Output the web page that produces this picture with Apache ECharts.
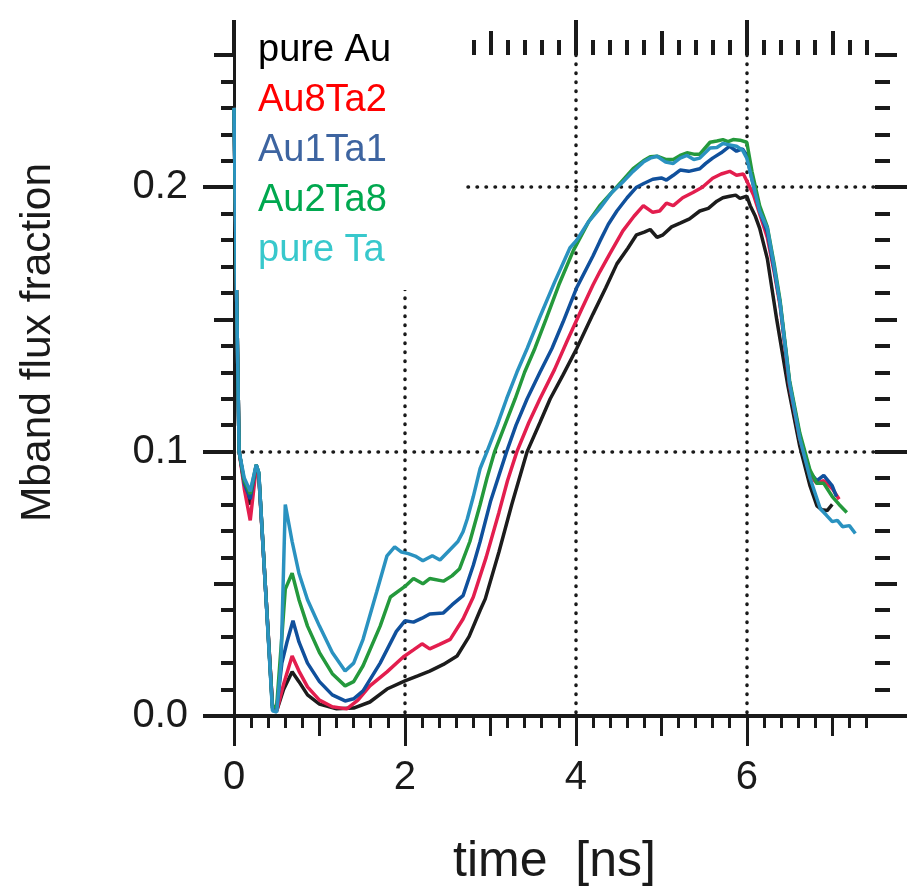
<!DOCTYPE html>
<html>
<head>
<meta charset="utf-8">
<script src="https://cdn.jsdelivr.net/npm/echarts@6/dist/echarts.min.js"></script>
<style>
    html, body { margin: 0; padding: 0; background: #fff; }
    #chart { width: 907px; height: 892px; }
</style>
</head>
<body>
<div id="chart"></div>
<script>
!function () {

    'use strict';

    // [time ns, Mband flux fraction]
    var pureAu = [[0,0.23],[0.03,0.16],[0.06,0.10],[0.12,0.088],[0.19,0.080],[0.26,0.094],[0.29,0.091],[0.45,0.004],[0.5,0.002],[0.58,0.010],[0.68,0.0167],[0.76,0.013],[0.86,0.008],[1.0,0.0045],[1.2,0.0027],[1.4,0.003],[1.59,0.0053],[1.79,0.0102],[2.0,0.0133],[2.15,0.0152],[2.29,0.017],[2.45,0.0195],[2.61,0.0227],[2.75,0.030],[2.88,0.040],[2.94,0.0443],[3.1,0.062],[3.25,0.080],[3.43,0.100],[3.58,0.111],[3.7,0.120],[3.85,0.129],[4.01,0.139],[4.2,0.152],[4.35,0.162],[4.48,0.171],[4.61,0.177],[4.71,0.182],[4.8,0.183],[4.87,0.184],[4.95,0.181],[5.02,0.182],[5.12,0.185],[5.22,0.1864],[5.33,0.188],[5.45,0.191],[5.55,0.192],[5.65,0.1947],[5.72,0.196],[5.8,0.1966],[5.87,0.197],[5.92,0.1958],[6.0,0.1966],[6.04,0.193],[6.1,0.189],[6.15,0.1845],[6.24,0.173],[6.35,0.150],[6.48,0.125],[6.62,0.102],[6.74,0.087],[6.82,0.0795],[6.88,0.078],[6.94,0.0777],[7.0,0.080]];
    var au8Ta2 = [[0,0.23],[0.03,0.16],[0.06,0.10],[0.12,0.086],[0.19,0.074],[0.26,0.094],[0.29,0.091],[0.45,0.004],[0.5,0.002],[0.58,0.012],[0.68,0.0227],[0.76,0.017],[0.86,0.011],[1.0,0.006],[1.15,0.0035],[1.32,0.0027],[1.45,0.006],[1.59,0.0114],[1.79,0.0167],[1.98,0.0223],[2.1,0.025],[2.2,0.0273],[2.29,0.0254],[2.4,0.027],[2.53,0.029],[2.68,0.0367],[2.8,0.045],[2.95,0.060],[3.1,0.077],[3.2,0.089],[3.31,0.100],[3.45,0.111],[3.58,0.120],[3.75,0.131],[3.9,0.142],[4.07,0.154],[4.2,0.163],[4.28,0.168],[4.4,0.175],[4.55,0.1835],[4.68,0.189],[4.79,0.193],[4.9,0.1905],[4.98,0.191],[5.06,0.194],[5.14,0.193],[5.25,0.196],[5.37,0.198],[5.48,0.200],[5.6,0.2034],[5.7,0.205],[5.8,0.206],[5.88,0.2045],[5.96,0.205],[6.02,0.201],[6.08,0.197],[6.15,0.19],[6.24,0.181],[6.32,0.168],[6.39,0.155],[6.5,0.125],[6.62,0.105],[6.74,0.091],[6.82,0.088],[6.9,0.089],[7.0,0.086],[7.08,0.082]];
    var au1Ta1 = [[0,0.23],[0.03,0.16],[0.06,0.10],[0.12,0.088],[0.19,0.082],[0.26,0.095],[0.29,0.092],[0.45,0.003],[0.5,0.003],[0.56,0.020],[0.62,0.028],[0.69,0.036],[0.76,0.028],[0.86,0.020],[1.0,0.013],[1.15,0.008],[1.3,0.0057],[1.4,0.0065],[1.51,0.0095],[1.71,0.020],[1.9,0.032],[2.0,0.036],[2.1,0.0355],[2.2,0.037],[2.29,0.0386],[2.45,0.039],[2.55,0.042],[2.68,0.0455],[2.8,0.057],[2.88,0.066],[3.0,0.081],[3.1,0.091],[3.19,0.100],[3.3,0.110],[3.43,0.120],[3.58,0.130],[3.72,0.139],[3.85,0.149],[4.01,0.162],[4.2,0.174],[4.28,0.1795],[4.38,0.186],[4.48,0.191],[4.6,0.196],[4.71,0.200],[4.8,0.2015],[4.9,0.203],[5.0,0.2035],[5.06,0.2027],[5.14,0.2045],[5.22,0.2065],[5.32,0.206],[5.45,0.207],[5.52,0.209],[5.6,0.211],[5.7,0.213],[5.8,0.2155],[5.88,0.2136],[5.95,0.2145],[6.0,0.212],[6.06,0.203],[6.15,0.191],[6.24,0.183],[6.32,0.169],[6.39,0.156],[6.5,0.126],[6.62,0.106],[6.74,0.092],[6.82,0.089],[6.9,0.091],[7.0,0.087],[7.05,0.083]];
    var au2Ta8 = [[0,0.23],[0.03,0.16],[0.06,0.10],[0.12,0.089],[0.19,0.084],[0.26,0.095],[0.29,0.092],[0.45,0.003],[0.5,0.004],[0.56,0.030],[0.6,0.048],[0.68,0.054],[0.76,0.044],[0.86,0.034],[1.0,0.024],[1.15,0.016],[1.3,0.0114],[1.4,0.013],[1.51,0.019],[1.71,0.034],[1.83,0.045],[2.0,0.049],[2.1,0.052],[2.21,0.050],[2.29,0.052],[2.45,0.051],[2.55,0.053],[2.64,0.0557],[2.76,0.066],[2.88,0.080],[2.96,0.090],[3.05,0.100],[3.17,0.110],[3.29,0.120],[3.4,0.130],[3.52,0.139],[3.65,0.150],[3.8,0.163],[3.97,0.176],[4.15,0.187],[4.28,0.193],[4.42,0.198],[4.55,0.2027],[4.67,0.207],[4.79,0.210],[4.87,0.2115],[4.95,0.2117],[5.05,0.2105],[5.14,0.2105],[5.22,0.212],[5.3,0.213],[5.38,0.2125],[5.45,0.2125],[5.57,0.217],[5.65,0.2175],[5.72,0.218],[5.78,0.2172],[5.84,0.218],[5.92,0.2178],[6.0,0.217],[6.06,0.206],[6.15,0.193],[6.24,0.185],[6.32,0.171],[6.39,0.157],[6.5,0.127],[6.62,0.107],[6.74,0.093],[6.82,0.088],[6.9,0.088],[7.0,0.083],[7.08,0.080],[7.17,0.077]];
    var pureTa = [[0,0.23],[0.03,0.16],[0.06,0.10],[0.12,0.090],[0.19,0.085],[0.26,0.095],[0.29,0.092],[0.45,0.002],[0.5,0.0015],[0.55,0.020],[0.6,0.080],[0.68,0.066],[0.76,0.054],[0.86,0.044],[1.0,0.034],[1.15,0.024],[1.3,0.017],[1.4,0.020],[1.51,0.029],[1.67,0.047],[1.79,0.0606],[1.88,0.064],[1.96,0.062],[2.04,0.0614],[2.12,0.0605],[2.21,0.0587],[2.32,0.0606],[2.41,0.059],[2.53,0.063],[2.62,0.066],[2.68,0.0697],[2.73,0.0746],[2.8,0.083],[2.88,0.0936],[2.96,0.100],[3.08,0.110],[3.19,0.120],[3.31,0.130],[3.43,0.139],[3.58,0.151],[3.75,0.164],[3.93,0.177],[4.01,0.180],[4.15,0.187],[4.28,0.192],[4.42,0.198],[4.55,0.202],[4.67,0.206],[4.79,0.2095],[4.87,0.211],[4.95,0.2117],[5.05,0.2095],[5.14,0.209],[5.22,0.211],[5.3,0.212],[5.38,0.2105],[5.45,0.211],[5.57,0.2148],[5.65,0.215],[5.72,0.2165],[5.8,0.216],[5.88,0.2155],[5.95,0.214],[6.0,0.211],[6.06,0.203],[6.15,0.191],[6.24,0.1845],[6.32,0.170],[6.39,0.156],[6.5,0.126],[6.62,0.105],[6.74,0.090],[6.86,0.0784],[6.93,0.076],[7.0,0.0735],[7.06,0.074],[7.12,0.0716],[7.2,0.072],[7.27,0.069]];

    var seriesNames = ['pure Au', 'Au8Ta2', 'Au1Ta1', 'Au2Ta8', 'pure Ta'];
    var seriesData = [pureAu, au8Ta2, au1Ta1, au2Ta8, pureTa];
    var lineColors = ['#1c1c1c', '#e31e4e', '#10509c', '#24993c', '#2a92c0'];
    var legendColors = ['#000000', '#ff0000', '#3d64a0', '#00a84f', '#38c8cc'];

    // tick labels / tick positions
    var xMajorTicks = [0, 2, 4, 6];
    var xMidTicks = [1, 3, 5, 7];
    var xMinorTicks = [];
    var yMajorTicks = [0, 0.1, 0.2];
    var yMidTicks = [0.05, 0.15, 0.25];
    var yMinorTicks = [];
    var i;
    for (i = 1; i < 38; i++) { if (i % 5 !== 0) { xMinorTicks.push(i / 5); } }
    for (i = 1; i < 25; i++) { if (i % 5 !== 0) { yMinorTicks.push(i / 100); } }

    var X_MIN = 0, X_MAX = 7.5, Y_MIN = 0, Y_MAX = 0.25;
    var ink = '#1a1a1a';
    var labelFont = 'Liberation Sans';

    function tickAxis(position, min, max, values, len, width) {
        return {
            type: 'value',
            position: position,
            min: min,
            max: max,
            axisLine: { show: false, onZero: false },
            axisTick: {
                show: true,
                inside: false,
                length: len,
                customValues: values,
                lineStyle: { color: ink, width: width }
            },
            axisLabel: { show: false },
            splitLine: { show: false }
        };
    }

    var dotted = { color: ink, width: 3.5, type: [0.5, 8.5], cap: 'round' };

    // axis 0 carries the data + dotted grid, the rest only draw ticks
    var xAxes = [
        {
            type: 'value', position: 'bottom', min: X_MIN, max: X_MAX, interval: 2,
            axisLine: { show: true, onZero: false, lineStyle: { color: ink, width: 4 } },
            axisTick: { show: false },
            axisLabel: { show: false },
            splitLine: { show: true, showMinLine: false, showMaxLine: false, lineStyle: dotted }
        },
        tickAxis('bottom', X_MIN, X_MAX, xMajorTicks, 30, 3),
        tickAxis('bottom', X_MIN, X_MAX, xMidTicks, 20, 3),
        tickAxis('bottom', X_MIN, X_MAX, xMinorTicks, 12, 3),
        tickAxis('top', X_MIN, X_MAX, xMajorTicks, 35, 4),
        tickAxis('top', X_MIN, X_MAX, xMidTicks, 24, 4),
        tickAxis('top', X_MIN, X_MAX, xMinorTicks, 15, 4)
    ];
    xAxes[1].axisLabel = {
        show: true, customValues: xMajorTicks, margin: 42,
        fontFamily: labelFont, fontSize: 40, color: ink
    };
    xAxes[1].name = 'time  [ns]';
    xAxes[1].nameLocation = 'middle';
    xAxes[1].nameGap = 121;
    xAxes[1].nameTextStyle = { fontFamily: labelFont, fontSize: 50, color: ink };

    var yAxes = [
        {
            type: 'value', position: 'left', min: Y_MIN, max: Y_MAX, interval: 0.1,
            axisLine: { show: true, onZero: false, lineStyle: { color: ink, width: 3 } },
            axisTick: { show: false },
            axisLabel: { show: false },
            splitLine: { show: true, showMinLine: false, showMaxLine: false, lineStyle: dotted }
        },
        tickAxis('left', Y_MIN, Y_MAX, yMajorTicks, 31, 4),
        tickAxis('left', Y_MIN, Y_MAX, yMidTicks, 20, 4),
        tickAxis('left', Y_MIN, Y_MAX, yMinorTicks, 13, 4),
        tickAxis('right', Y_MIN, Y_MAX, yMajorTicks, 32, 4),
        tickAxis('right', Y_MIN, Y_MAX, yMidTicks, 22, 4),
        tickAxis('right', Y_MIN, Y_MAX, yMinorTicks, 15, 4)
    ];
    yAxes[1].axisLabel = {
        show: true, customValues: yMajorTicks, margin: 46,
        fontFamily: labelFont, fontSize: 40, color: ink,
        formatter: function (v) { return v.toFixed(1); }
    };
    yAxes[1].name = 'Mband flux fraction';
    yAxes[1].nameLocation = 'middle';
    yAxes[1].nameRotate = 90;
    yAxes[1].nameGap = 174;
    yAxes[1].nameTextStyle = { fontFamily: labelFont, fontSize: 42.5, color: ink, padding: [0, 0, 0, 86] };

    var series = seriesNames.map(function (name, k) {
        return {
            name: name,
            type: 'line',
            xAxisIndex: 0,
            yAxisIndex: 0,
            data: seriesData[k],
            symbol: 'none',
            showSymbol: false,
            color: lineColors[k],
            lineStyle: { color: lineColors[k], width: 3.5 },
            z: 2 + k
        };
    });

    var option = {
        animation: false,
        backgroundColor: '#ffffff',
        grid: { left: 234, right: 32, top: 55, bottom: 175 },
        legend: {
            orient: 'vertical',
            left: 236,
            top: 16,
            padding: [10, 74, 14, 16],
            itemGap: 0,
            itemWidth: 0,
            itemHeight: 0,
            backgroundColor: '#ffffff',
            selectedMode: false,
            z: 10,
            textStyle: { fontFamily: labelFont, fontSize: 38, lineHeight: 50 },
            data: seriesNames.map(function (name, k) {
                return { name: name, textStyle: { color: legendColors[k] } };
            })
        },
        xAxis: xAxes,
        yAxis: yAxes,
        series: series
    };

    var chart = echarts.init(document.getElementById('chart'), null, { renderer: 'canvas' });
    chart.setOption(option);
}();
</script>
</body>
</html>
